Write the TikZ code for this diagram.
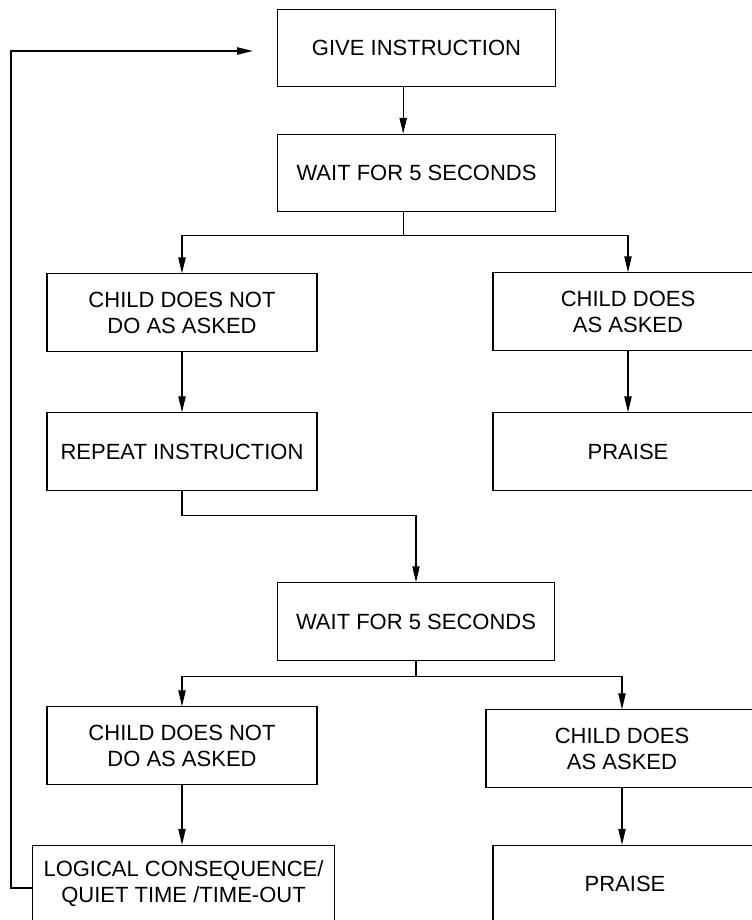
\documentclass[tikz,border=0pt]{standalone}
\usepackage{fontspec}
\setmainfont{Liberation Sans}
\usetikzlibrary{arrows.meta}

\tikzset{
  box/.style={draw,line width=0.8pt,align=center,inner sep=0pt,
    minimum width=202.5pt,minimum height=58pt,
    font=\fontsize{16.5}{19.5}\selectfont},
  link/.style={line width=0.8pt,-{Triangle[length=12pt,width=5.5pt]}},
}

\begin{document}
\begin{tikzpicture}[x=0.75pt,y=-0.75pt]
  \useasboundingbox (0,0) rectangle (752,920);
  \clip (0,0) rectangle (752,920);
  % boxes
  \node[box,minimum width=209pt](give) at(416.5,48){GIVE INSTRUCTION};
  \node[box,minimum width=209pt](wait1) at(416.5,173){WAIT FOR 5 SECONDS};
  \node[box](no1) at(182,312.5){CHILD DOES NOT\\DO AS ASKED};
  \node[box](yes1) at(628,311.5){CHILD DOES\\AS ASKED};
  \node[box](repeat) at(182,451.5){REPEAT INSTRUCTION};
  \node[box](praise1) at(628,451.5){PRAISE};
  \node[box,minimum width=208pt](wait2) at(416,621.5){WAIT FOR 5 SECONDS};
  \node[box](no2) at(182,745.5){CHILD DOES NOT\\DO AS ASKED};
  \node[box,minimum width=204pt](yes2) at(622,748.5){CHILD DOES\\AS ASKED};
  \node[box,minimum width=226pt](logic) at(183.5,884){LOGICAL CONSEQUENCE/\\QUIET TIME /TIME-OUT};
  \node[box,minimum width=198pt](praise2) at(625,884){PRAISE};
  % arrows
  \draw[link]([xshift=-10pt]give.south)--([xshift=-10pt]wait1.north);
  \draw[link]([xshift=-10pt]wait1.south)--++(0,23)-|(no1.north);
  \draw[link]([xshift=-10pt]wait1.south)--++(0,23)-|(yes1.north);
  \foreach \a/\b in {no1/repeat,yes1/praise1,no2/logic,yes2/praise2}{
    \draw[link](\a.south)--(\a.south|-\b.north);
  }
  \draw[link](repeat.south)--++(0,25)-|(wait2.north);
  \draw[link](wait2.south)--++(0,16)-|(no2.north);
  \draw[link](wait2.south)--++(0,16)-|(yes2.north);
  % back to the start
  \coordinate(back) at(11,51);
  \coordinate(loopend) at(253,51);
  \draw[link,line width=1.2pt]([yshift=-3pt]logic.west)-|(back)--(loopend);
\end{tikzpicture}
\end{document}
